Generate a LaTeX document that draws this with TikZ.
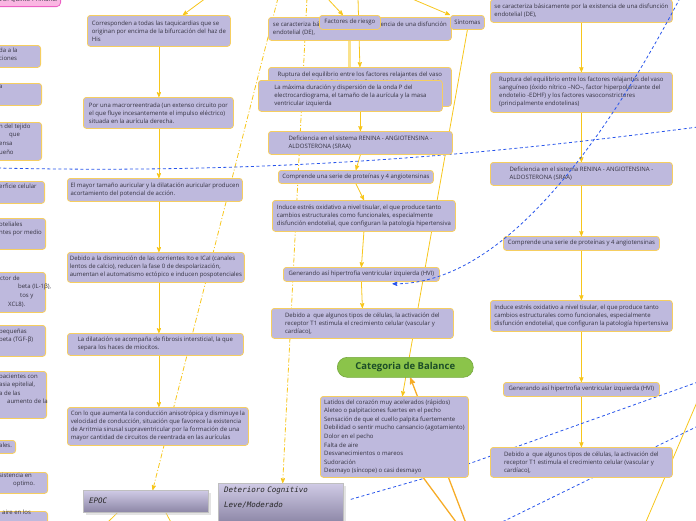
\documentclass[tikz,border=0pt]{standalone}
\usepackage{fontspec}
\setmainfont{Open Sans}
\newfontfamily\handfont{DejaVu Sans Mono}
\usepackage{tikz}
\usetikzlibrary{arrows,shadows,calc,backgrounds}
\definecolor{boxfill}{RGB}{190,185,221}
\definecolor{boxline}{RGB}{246,206,96}
\definecolor{flowyel}{RGB}{247,198,28}
\definecolor{paleyel}{RGB}{250,226,140}
\definecolor{branchor}{RGB}{246,172,40}
\definecolor{linkblue}{RGB}{40,85,235}
\definecolor{txtgrey}{RGB}{52,50,64}
\definecolor{pinkfill}{RGB}{250,182,226}
\definecolor{pinkline}{RGB}{236,96,196}
\definecolor{balgreen}{RGB}{139,196,74}
\definecolor{baltext}{RGB}{28,78,40}
\definecolor{epoctop}{RGB}{208,203,230}
\definecolor{epocbot}{RGB}{140,134,166}
\tikzset{
  idea/.style   = {draw=boxline, fill=boxfill, rounded corners=3pt, line width=0.8pt,
                   text=txtgrey, align=left, inner xsep=2.5pt, inner ysep=3pt, anchor=north west,
                   font=\fontsize{6}{8}\selectfont},
  stub/.style   = {draw=boxline, fill=boxfill, rounded corners=3pt, line width=0.8pt,
                   anchor=north east},
  stubtext/.style = {text=txtgrey, align=left, inner sep=0pt, anchor=north west,
                   font=\fontsize{6}{8.6}\selectfont},
  pinkbox/.style = {draw=pinkline, fill=pinkfill, rounded corners=4pt, line width=0.8pt,
                   text=txtgrey, inner sep=3pt, font=\fontsize{6}{8}\selectfont},
  balancepill/.style = {draw=balgreen!85!black, fill=balgreen, rounded corners=10pt,
                   anchor=north west, text=baltext, line width=0.6pt,
                   font=\fontsize{9.5}{11}\selectfont\bfseries},
  greybox/.style = {draw=white!75!black, top color=epoctop, bottom color=epocbot,
                   drop shadow={shadow xshift=3pt, shadow yshift=-3pt, fill=black!22},
                   anchor=north west, align=left, inner xsep=6pt, text=black!85,
                   font=\handfont\itshape\fontsize{7.5}{15}\selectfont},
  flow/.style   = {->, >=stealth', draw=flowyel, line width=0.8pt},
  flowdd/.style = {flow, dash pattern=on 5pt off 2pt on 1pt off 2pt},
  paleline/.style = {draw=paleyel, line width=3pt},
  branch/.style = {>=stealth', draw=branchor, line width=1.3pt},
  relink/.style = {>=stealth', draw=linkblue, line width=0.8pt, dash pattern=on 3pt off 2.5pt}
}

\begin{document}
\begin{tikzpicture}[x=1pt, y=-1pt]
\useasboundingbox (0,0) rectangle (696,520);

% cut-off boxes on the left
\node[pinkbox, anchor=south east, text width=80pt, align=right, minimum height=14pt] (grade) at (61,7) {TIVO: Quinto Primaria.};
\node[stub, minimum width=101pt, minimum height=22pt] (s1) at (41,45) {};
\node[stubtext] (s1t) at (-1,47.5) {da a la\\ciones};
\node[stub, minimum width=102pt, minimum height=22pt] (s2) at (42,83) {};
\node[stubtext] (s2t) at (-1,85.5) {a};
\node[stub, minimum width=102pt, minimum height=38pt] (s3) at (42,122) {};
\node[stubtext] (s3t) at (-1,123.5) {n del tejido\\\hspace*{10pt}que\\ensa\\ueño};
\node[stub, minimum width=105pt, minimum height=22pt] (s4) at (45,181) {};
\node[stubtext] (s4t) at (-1,183.5) {erficie celular};
\node[stub, minimum width=106pt, minimum height=31pt] (s5) at (46,218) {};
\node[stubtext] (s5t) at (-1,221.5) {oteliales\\ntes por medio};
\node[stub, minimum width=106pt, minimum height=40pt] (s6) at (46,272) {};
\node[stubtext] (s6t) at (0,275.5) {ctor de\\\hspace*{18pt}beta (IL-1β),\\\hspace*{20pt}tos y\\\hspace*{8pt}XCL8).};
\node[stub, minimum width=106pt, minimum height=31pt] (s7) at (46,325) {};
\node[stubtext] (s7t) at (-1,328.5) {pequeñas\\beta (TGF-β)};
\node[stub, minimum width=107pt, minimum height=47pt] (s8) at (47,371) {};
\node[stubtext] (s8t) at (-1,373.5) {pacientes con\\asia epitelial,\\a de las\\\hspace*{8pt}aumento de la};
\node[stub, minimum width=76pt, minimum height=13pt] (s9) at (16,440) {};
\node[stubtext] (s9t) at (-1,442.5) {ales.};
\node[stub, minimum width=108pt, minimum height=21pt] (s10) at (48,472) {};
\node[stubtext] (s10t) at (-1,472.5) {sistencia en\\\hspace*{14pt}optimo.};
\node[stub, minimum width=108pt, minimum height=30pt] (s11) at (48,511) {};
\node[stubtext] (s11t) at (2,509.5) {aire en los};

% arritmia column
\node[idea, minimum width=143pt, minimum height=31pt] (taqui) at (87,15) {Corresponden a todas las taquicardias que se\\originan por encima de la bifurcación del haz de\\His};
\node[idea, minimum width=150pt, minimum height=31pt] (macro) at (83,97) {Por una macrorreentrada (un extenso circuito por\\el que fluye incesantemente el impulso eléctrico)\\situada en la aurícula derecha.};
\node[idea, minimum width=175pt, minimum height=23pt] (tamano) at (67,178) {El mayor tamaño auricular y la dilatación auricular producen\\acortamiento del potencial de acción.};
\node[idea, minimum width=176pt, minimum height=30pt] (ito) at (67,252) {Debido a la disminución de las corrientes Ito e ICaI (canales\\lentos de calcio), reducen la fase 0 de despolarización,\\aumentan el automatismo ectópico e inducen pospotenciales};
\node[idea, minimum width=176pt, minimum height=22pt] (fibro) at (67,333) {La dilatación se acompaña de fibrosis intersticial, la que\\separa los haces de miocitos.};
\node[idea, minimum width=181pt, minimum height=38pt] (aniso) at (67,407) {Con lo que aumenta la conducción anisotrópica y disminuye la\\velocidad de conducción, situación que favorece la existencia\\de Arritmia sinusal supraventricular por la formación de una\\mayor cantidad de circuitos de reentrada en las aurículas};

% hipertension column (middle)
\node[idea, minimum width=183pt, minimum height=23pt] (disfA) at (268,17) {se caracteriza básicamente por la existencia de una disfunción\\endotelial (DE),};
\node[idea, minimum width=61pt, minimum height=14pt] (fact) at (319,15) {Factores de riesgo};
\node[idea, minimum width=34pt, minimum height=14pt] (sint) at (450,15) {Síntomas};
\node[idea, minimum width=183pt, minimum height=39pt] (ruptA) at (268,67) {Ruptura del equilibrio entre los factores relajantes del vaso\\sanguíneo (óxido nítrico –NO–, factor hiperpolarizante del\\endotelio -EDHF) y los factores vasoconstrictores\\(principalmente endotelinas)};
\node[idea, minimum width=184pt, minimum height=31pt] (ondaP) at (258,80) {La máxima duración y dispersión de la onda P del\\electrocardiograma, el tamaño de la aurícula y la masa\\ventricular izquierda};
\node[idea, minimum width=184pt, minimum height=23pt] (sraaA) at (268,131) {Deficiencia en el sistema RENINA - ANGIOTENSINA -\\ALDOSTERONA (SRAA)};
\node[idea, minimum width=155pt, minimum height=13pt] (protA) at (278,170) {Comprende una serie de proteínas y 4 angiotensinas};
\node[idea, minimum width=183pt, minimum height=31pt] (estresA) at (272,200) {Induce estrés oxidativo a nivel tisular, el que produce tanto\\cambios estructurales como funcionales, especialmente\\disfunción endotelial, que configuran la patología hipertensiva};
\node[idea, minimum width=156pt, minimum height=14pt] (hviA) at (283,267) {Generando así hipertrofia ventricular izquierda (HVI)};
\node[idea, minimum width=182pt, minimum height=30pt] (receA) at (271,308) {Debido a~ que algunos tipos de células, la activación del\\receptor T1 estimula el crecimiento celular (vascular y\\cardíaco),};

% hipertension column (right)
\node[idea, minimum width=182pt, minimum height=23pt] (disfB) at (490,-1) {se caracteriza básicamente por la existencia de una disfunción\\endotelial (DE),};
\node[idea, minimum width=182pt, minimum height=40pt] (ruptB) at (490,72) {Ruptura del equilibrio entre los factores relajantes del vaso\\sanguíneo (óxido nítrico –NO–, factor hiperpolarizante del\\endotelio -EDHF) y los factores vasoconstrictores\\(principalmente endotelinas)};
\node[idea, minimum width=182pt, minimum height=23pt] (sraaB) at (490,162) {Deficiencia en el sistema RENINA - ANGIOTENSINA -\\ALDOSTERONA (SRAA)};
\node[idea, minimum width=156pt, minimum height=14pt] (protB) at (503,236) {Comprende una serie de proteínas y 4 angiotensinas};
\node[idea, minimum width=182pt, minimum height=31pt] (estresB) at (490,300) {Induce estrés oxidativo a nivel tisular, el que produce tanto\\cambios estructurales como funcionales, especialmente\\disfunción endotelial, que configuran la patología hipertensiva};
\node[idea, minimum width=156pt, minimum height=14pt] (hviB) at (503,382) {Generando así hipertrofia ventricular izquierda (HVI)};
\node[idea, minimum width=182pt, minimum height=30pt] (receB) at (490,447) {Debido a~ que algunos tipos de células, la activación del\\receptor T1 estimula el crecimiento celular (vascular y\\cardíaco),};

% balance
\node[balancepill, minimum width=136pt, minimum height=20pt] (balance) at (337,357) {Categoria de Balance};
\node[idea, font=\fontsize{6}{8.6}\selectfont, minimum width=148pt, minimum height=81pt] (lat) at (320,396) {Latidos del corazón muy acelerados (rápidos)\\Aleteo o palpitaciones fuertes en el pecho\\Sensación de que el cuello palpita fuertemente\\Debilidad o sentir mucho cansancio (agotamiento)\\Dolor en el pecho\\Falta de aire\\Desvanecimientos o mareos\\Sudoración\\Desmayo (síncope) o casi desmayo};

\node[greybox, text width=113pt, minimum height=22pt] (epoc) at (83,490) {EPOC};
\node[greybox, text width=113pt, inner ysep=4pt, text depth=26pt] (det) at (218,483) {Deterioro Cognitivo\\Leve/Moderado};

% free ends
\coordinate (offA) at (206,-2);
\coordinate (offB) at (278,-2);
\coordinate (offC) at (307,-2);
\coordinate (offD) at (327,-2);
\coordinate (offE) at (358,-2);
\coordinate (offF) at (410,-2);
\coordinate (offG) at (467,526);
\coordinate (offH) at (459,526);
\coordinate (offI) at (104,526);
\coordinate (offJ) at (173,526);
\coordinate (offK) at (700,395);
\coordinate (offL) at (645,524);
\coordinate (offM) at (-2,168);
\coordinate (offN) at (698,127);
\coordinate (offP) at (698,382);
\coordinate (offQ) at (698,426);
\coordinate (offR) at (498,524);
\coordinate (offS) at (680,-2);

\begin{scope}[on background layer]
\draw[flow] (offA) -- ($(taqui.north)+(24,0)$);
\foreach \a/\b in {taqui/macro, macro/tamano, tamano/ito, ito/fibro, fibro/aniso}
  \draw[flow] (\a.south -| taqui.south) -- (\b.north -| taqui.south);
\draw[flowdd] (offB) -- ($(epoc.north)+(7,0)$);
\draw[flowdd] (offC) -- ($(det.north)+(2,0)$);
\draw[flow] (offD) -- ($(fact.north)+(-7,0)$);
\draw[flow] (offE) -- (ruptA.north);
\draw[flow] (offF) -- (sint.north west);
\draw[paleline] (fact.south) -- (fact.south |- ondaP.north);
\draw[flow] (ondaP.south -| sraaA.north) -- (sraaA.north);
\foreach \a/\b in {sraaA/protA, protA/estresA, estresA/hviA, hviA/receA}
  \draw[flow] (\a.south) -- (\b.north);
\foreach \a/\b in {disfB/ruptB, ruptB/sraaB, sraaB/protB, protB/estresB, estresB/hviB, hviB/receB}
  \draw[flow] (\a.south) -- (\b.north);
\draw[flow] (sint.south) -- ($(lat.north)+(8,0)$);
\draw[branch, ->] (offG) -- ($(balance.south)+(5,0)$);
\draw[branch] (offH) -- ($(lat.south)+(29,0)$);
\draw[flow, -] ($(epoc.south)+(-28,0)$) -- (offI);
\draw[flow, -] ($(epoc.south)+(20,0)$) -- (offJ);
\draw[flow, -] (offK) -- (offL);
\draw[relink] (offM) .. controls (300,175) and (520,150) .. (offN);
\draw[relink] (offP) -- ($(lat.south east)+(0,-14)$);
\draw[relink] (offQ) -- (offR);
\draw[relink] ($(lat.south)+(28,1)$) -- ($(det.east)+(5,-3)$);
\end{scope}
\draw[relink, ->] (offS) .. controls (600,150) and (500,285) .. ($(hviA.south)+(31,2)$);
\end{tikzpicture}
\end{document}
